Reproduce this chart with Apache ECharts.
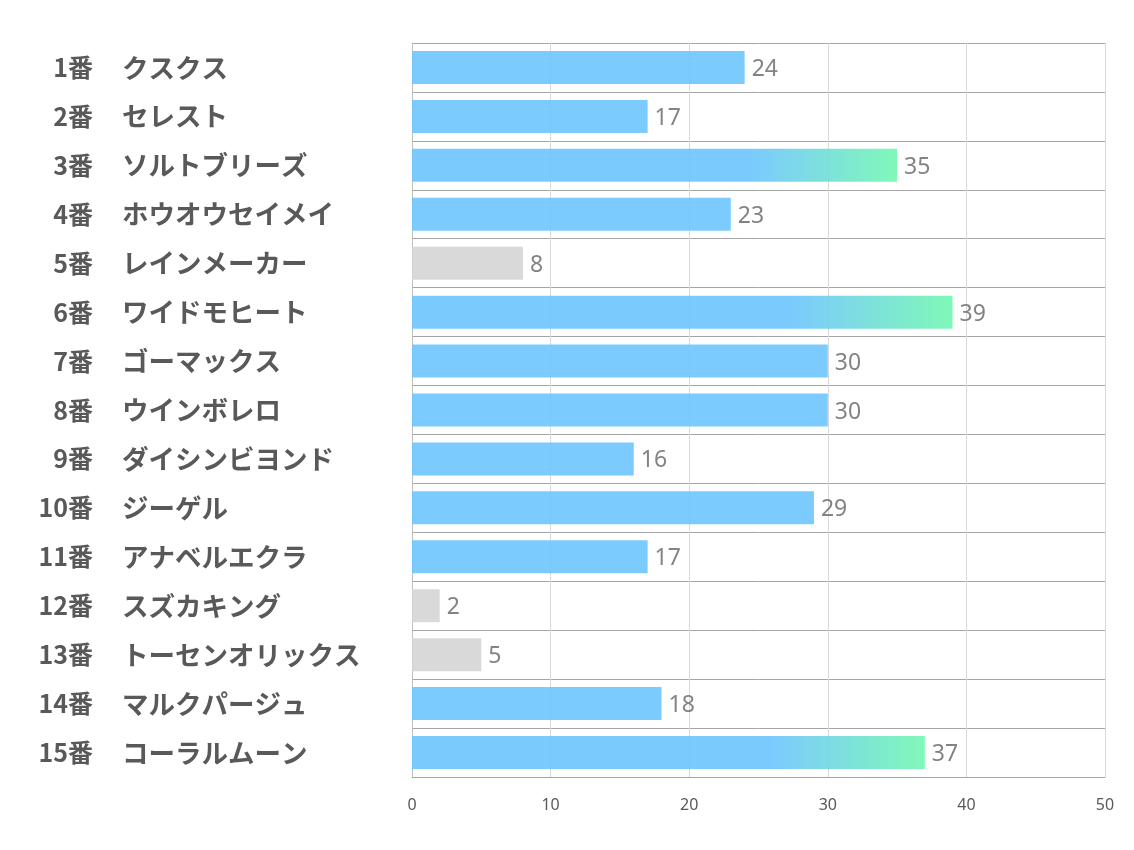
<!DOCTYPE html>
<html><head><meta charset="utf-8">
<script src="https://cdn.jsdelivr.net/npm/echarts@6/dist/echarts.min.js"></script>
<style>html,body{margin:0;padding:0;background:#fff}#c{width:1134px;height:850px}</style>
</head><body><div id="c"></div>
<script>
const numbers = ['1番','2番','3番','4番','5番','6番','7番','8番','9番','10番','11番','12番','13番','14番','15番'];
const names = ['クスクス','セレスト','ソルトブリーズ','ホウオウセイメイ','レインメーカー','ワイドモヒート','ゴーマックス','ウインボレロ','ダイシンビヨンド','ジーゲル','アナベルエクラ','スズカキング','トーセンオリックス','マルクパージュ','コーラルムーン'];
const values = [24,17,35,23,8,39,30,30,16,29,17,2,5,18,37];
const xTicks = [0,10,20,30,40,50];

const BLUE = '#6dc5ff', GREEN = '#72f8b1', GRAY = '#d5d5d5';
const top3 = values.slice().sort((a,b)=>b-a).slice(0,3);
const seriesData = values.map(v=>{
  let color = BLUE;
  if (v < 10) color = GRAY;
  else if (top3.includes(v)) color = {type:'linear',x:0,y:0,x2:1,y2:0,colorStops:[{offset:0,color:BLUE},{offset:0.7,color:BLUE},{offset:1,color:GREEN}]};
  return {value:v,itemStyle:{color,opacity:0.9}};
});

const labelFont = {fontWeight:'bold',color:'#595959',fontFamily:'"Noto Sans CJK JP"'};
const chart = echarts.init(document.getElementById('c'));
chart.setOption({
  animation:false,
  grid:{left:412,right:29,top:43,bottom:73,containLabel:false},
  xAxis:{type:'value',min:xTicks[0],max:xTicks[xTicks.length-1],interval:10,
    axisLine:{show:true,lineStyle:{color:'#a6a6a6',width:1}},
    axisTick:{show:false},
    axisLabel:{color:'#595959',fontSize:16,fontFamily:'"Noto Sans"',margin:20},
    splitLine:{show:true,lineStyle:{color:'#d9d9d9',width:1}}},
  yAxis:[
    {type:'category',inverse:true,data:numbers,position:'left',
      axisLine:{show:true,lineStyle:{color:'#bfbfbf'}},
      axisTick:{show:false},
      splitLine:{show:true,lineStyle:{color:'#a6a6a6',width:1}},
      axisLabel:Object.assign({align:'right',margin:319,fontSize:25},labelFont)},
    {type:'category',inverse:true,data:names,position:'left',offset:0,
      axisLine:{show:false},axisTick:{show:false},splitLine:{show:false},
      axisLabel:Object.assign({align:'left',margin:290,fontSize:26.5},labelFont)}
  ],
  series:[{type:'bar',data:seriesData,barWidth:33,yAxisIndex:0,
    label:{show:true,position:'right',distance:7,offset:[0,2],color:'#757575',fontSize:23,fontFamily:'"Noto Sans"'}}]
});
</script></body></html>
